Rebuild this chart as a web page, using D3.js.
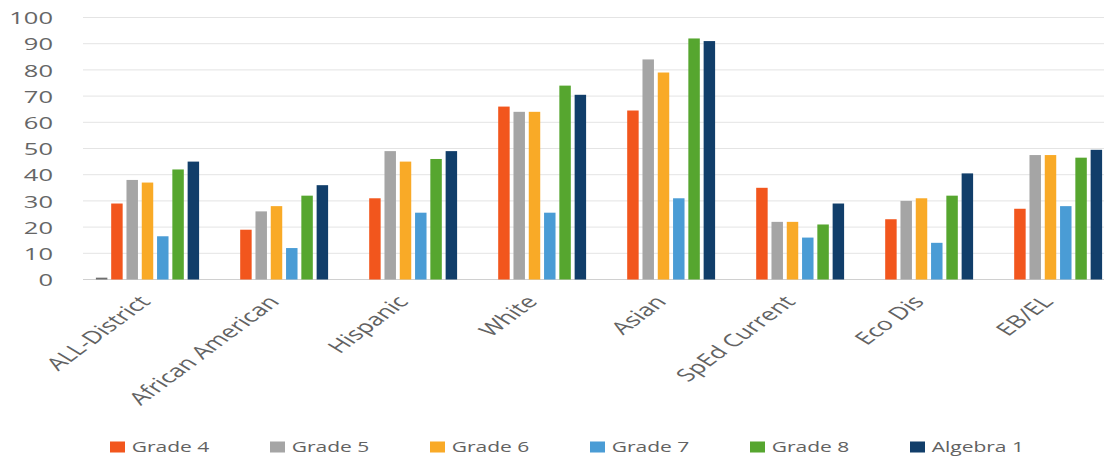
<!DOCTYPE html>
<html>
<head>
<meta charset="utf-8">
<script src="https://cdn.jsdelivr.net/npm/d3@7"></script>
<style>
  html, body { margin: 0; padding: 0; background: #ffffff; }
  svg { display: block; }
  text { font-family: "Open Sans", "Noto Sans", sans-serif; fill: #626262; }
</style>
</head>
<body>
<svg id="chart" width="1104" height="464"></svg>
<script>
// Student groups along the x axis
const categories = ["ALL-District", "African American", "Hispanic", "White", "Asian", "SpEd Current", "Eco Dis", "EB/EL"];

// Series shown in the legend
const seriesNames = ["Grade 4", "Grade 5", "Grade 6", "Grade 7", "Grade 8", "Algebra 1"];
const seriesColors = ["#F2561D", "#A5A5A5", "#F9AA27", "#4A9CD5", "#56A62F", "#113E6A"];

// Values per series (percent), one entry per category
const grade4   = [29, 19, 31, 66, 64.5, 35, 23, 27];
const grade5   = [38, 26, 49, 64, 84, 22, 30, 47.5];
const grade6   = [37, 28, 45, 64, 79, 22, 31, 47.5];
const grade7   = [16.5, 12, 25.5, 25.5, 31, 16, 14, 28];
const grade8   = [42, 32, 46, 74, 92, 21, 32, 46.5];
const algebra1 = [45, 36, 49, 70.5, 91, 29, 40.5, 49.5];

// Unlabelled leading series (only a sliver in the first group)
const leadSeries = [0.7, null, null, null, null, null, null, null];
const leadColor = "#6f6f6f";

const yTicks = [0, 10, 20, 30, 40, 50, 60, 70, 80, 90, 100];

const seriesValues = [leadSeries, grade4, grade5, grade6, grade7, grade8, algebra1];
const seriesKeys = ["lead", ...seriesNames];
const colorOf = d3.scaleOrdinal().domain(seriesKeys).range([leadColor, ...seriesColors]);

const svg = d3.select("#chart");
const plot = { left: 83, right: 1115, top: 17.5, bottom: 279.5 };
const sx = 1.5; // horizontal text stretch

const x0 = d3.scaleBand().domain(categories).range([plot.left, plot.right])
  .paddingInner(0.2).paddingOuter(0.1);
const x1 = d3.scaleBand().domain(seriesKeys).range([0, x0.bandwidth()]).paddingInner(0.25);
const y = d3.scaleLinear().domain([0, 100]).range([plot.bottom, plot.top]);

// Gridlines
svg.append("g")
  .selectAll("line").data(yTicks).join("line")
  .attr("x1", plot.left).attr("x2", 1104)
  .attr("y1", d => y(d)).attr("y2", d => y(d))
  .attr("stroke", d => d === 0 ? "#d0d0d0" : "#e4e4e4")
  .attr("stroke-width", 1);

// Y axis labels
const yAxis = d3.axisLeft(y).tickValues(yTicks).tickSize(0).tickPadding(0);
const yg = svg.append("g").attr("transform", "translate(53,0)").call(yAxis);
yg.select(".domain").remove();
yg.selectAll("text")
  .attr("x", 0)
  .attr("font-size", 17)
  .attr("dy", "0.36em")
  .attr("text-anchor", "end")
  .attr("transform", d => `translate(0,${y(d)}) scale(${sx},1) translate(0,${-y(d)})`)
  .style("font-family", "'Open Sans', sans-serif")
  .style("fill", "#666666");

// Bars
const rows = categories.map((c, i) => ({
  category: c,
  values: seriesKeys.map((k, j) => ({ key: k, value: seriesValues[j][i] }))
}));

svg.append("g")
  .selectAll("g").data(rows).join("g")
  .attr("transform", d => `translate(${x0(d.category)},0)`)
  .selectAll("rect").data(d => d.values.filter(v => v.value != null)).join("rect")
  .attr("x", d => x1(d.key))
  .attr("width", x1.bandwidth())
  .attr("y", d => y(d.value))
  .attr("height", d => y(0) - y(d.value))
  .attr("fill", d => colorOf(d.key));

// Category labels, rotated
svg.append("g")
  .selectAll("text").data(categories).join("text")
  .attr("transform", d => `translate(${x0(d) + x0.bandwidth() / 2 + 4},${plot.bottom + 23}) scale(${sx},1) rotate(-48)`)
  .attr("text-anchor", "end")
  .attr("font-size", 17.5)
  .text(d => d);

// Legend: equal-width slots
const legend = svg.append("g").attr("transform", "translate(0,447)");
const slot = 160;
seriesNames.forEach((name, i) => {
  const item = legend.append("g").attr("transform", `translate(${110 + i * slot},0) scale(${sx},1)`);
  item.append("rect").attr("x", 0).attr("y", -5.5).attr("width", 10).attr("height", 11)
    .attr("fill", seriesColors[i]);
  item.append("text").attr("x", 14.5).attr("dy", "0.36em")
    .attr("font-size", 14).text(name);
});
</script>
</body>
</html>
